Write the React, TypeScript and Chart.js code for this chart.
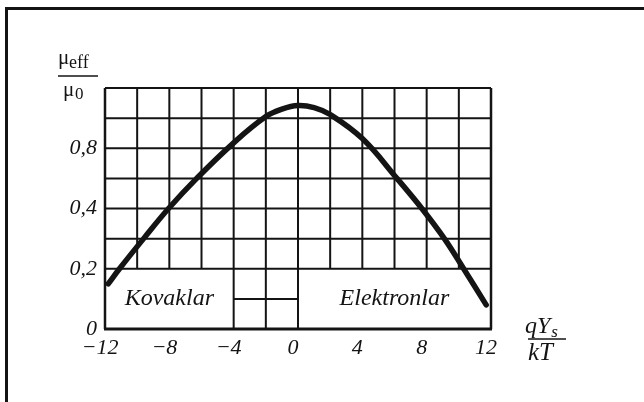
import { useEffect, useRef } from 'react';
import { Chart, registerables } from 'chart.js';

Chart.register(...registerables);

// Surface potential (qYs/kT) and effective mobility ratio along the curve
const surfacePotential = [-11.8, -11.1, -9.6, -8.05, -6.3, -4, -2, -1, 0, 1, 2, 4, 6.15, 7.7, 9.1, 10.3, 11.7];
const mobilityRatio = [0.15, 0.2, 0.3, 0.4, 0.5, 0.618, 0.705, 0.73, 0.742, 0.735, 0.712, 0.632, 0.5, 0.4, 0.3, 0.2, 0.08];

// Axis ticks and their printed labels
const xTickValues = [-12, -8, -4, 0, 4, 8, 12];
const xTickLabels = ['\u221212', '\u22128', '\u22124', '0', '4', '8', '12'];
const yTickValues = [0, 0.2, 0.4, 0.6];
const yTickLabels = ['0', '0,2', '0,4', '0,8'];

// Grid lines: full grid above 0.2, a small block of cells between -4 and 0 below it
const xGridValues = [-12, -10, -8, -6, -4, -2, 0, 2, 4, 6, 8, 10, 12];
const yGridValues = [0.2, 0.3, 0.4, 0.5, 0.6, 0.7, 0.8];
const lowerGridColumns = [-4, -2, 0];
const lowerGridRows = [0.1];

// Region names written inside the lower band
const regionNames = ['Kovaklar', 'Elektronlar'];
const regionCenters = [-8, 6];
const regionLevel = 0.1;

const SERIF = "'Liberation Serif', 'DejaVu Serif', 'Times New Roman', serif";
const INK = '#141414';

const gridPlugin = {
  id: 'mobilityGrid',
  beforeDatasetsDraw(chart: any) {
    const { ctx, scales } = chart;
    const xs = scales.x;
    const ys = scales.y;
    const xMin = xs.getPixelForValue(xGridValues[0]);
    const xMax = xs.getPixelForValue(xGridValues[xGridValues.length - 1]);
    const yTop = ys.getPixelForValue(yGridValues[yGridValues.length - 1]);
    const yBand = ys.getPixelForValue(yGridValues[0]);
    const yZero = ys.getPixelForValue(0);
    ctx.save();
    ctx.strokeStyle = INK;
    ctx.lineCap = 'butt';
    ctx.lineWidth = 2;
    ctx.beginPath();
    yGridValues.forEach((v) => {
      const y = ys.getPixelForValue(v);
      ctx.moveTo(xMin, y);
      ctx.lineTo(xMax, y);
    });
    xGridValues.forEach((v) => {
      const x = xs.getPixelForValue(v);
      ctx.moveTo(x, yTop);
      ctx.lineTo(x, yBand);
    });
    lowerGridColumns.forEach((v) => {
      const x = xs.getPixelForValue(v);
      ctx.moveTo(x, yBand);
      ctx.lineTo(x, yZero);
    });
    lowerGridRows.forEach((v) => {
      const y = ys.getPixelForValue(v);
      ctx.moveTo(xs.getPixelForValue(lowerGridColumns[0]), y);
      ctx.lineTo(xs.getPixelForValue(lowerGridColumns[lowerGridColumns.length - 1]), y);
    });
    ctx.stroke();
    // outer frame of the plot
    ctx.lineWidth = 2.5;
    ctx.beginPath();
    ctx.moveTo(xMin, yTop);
    ctx.lineTo(xMin, yZero);
    ctx.moveTo(xMax, yTop);
    ctx.lineTo(xMax, yZero);
    ctx.stroke();
    ctx.lineWidth = 3;
    ctx.beginPath();
    ctx.moveTo(xMin - 1, yZero);
    ctx.lineTo(xMax + 1, yZero);
    ctx.stroke();
    ctx.restore();
  },
  afterDraw(chart: any) {
    const { ctx, chartArea, scales } = chart;
    const xs = scales.x;
    const ys = scales.y;
    ctx.save();
    ctx.fillStyle = INK;
    ctx.strokeStyle = INK;

    // region names
    ctx.font = `italic 24px ${SERIF}`;
    ctx.textAlign = 'center';
    ctx.textBaseline = 'middle';
    regionNames.forEach((name, i) => {
      ctx.fillText(name, xs.getPixelForValue(regionCenters[i]), ys.getPixelForValue(regionLevel));
    });

    // y-axis title: mu_eff over mu_0
    const L = chartArea.left;
    const T = chartArea.top;
    ctx.textAlign = 'left';
    ctx.textBaseline = 'alphabetic';
    ctx.font = `21px ${SERIF}`;
    ctx.fillText('\u03bc', L - 47, T - 24);
    ctx.font = `18px ${SERIF}`;
    ctx.fillText('eff', L - 36, T - 20);
    ctx.lineWidth = 1.6;
    ctx.beginPath();
    ctx.moveTo(L - 47, T - 12);
    ctx.lineTo(L - 7, T - 12);
    ctx.stroke();
    ctx.font = `21px ${SERIF}`;
    ctx.fillText('\u03bc', L - 42, T + 8);
    ctx.font = `17px ${SERIF}`;
    ctx.fillText('0', L - 30, T + 11);

    // x-axis title: qYs over kT
    const R = chartArea.right;
    const B = chartArea.bottom;
    ctx.font = `italic 24px ${SERIF}`;
    ctx.fillText('qY', R + 34, B + 4);
    const qyWidth = ctx.measureText('qY').width;
    ctx.font = `italic 17px ${SERIF}`;
    ctx.fillText('s', R + 35 + qyWidth, B + 8);
    ctx.lineWidth = 1.6;
    ctx.beginPath();
    ctx.moveTo(R + 37, B + 10);
    ctx.lineTo(R + 75, B + 10);
    ctx.stroke();
    ctx.font = `italic 25px ${SERIF}`;
    ctx.fillText('kT', R + 37, B + 31);
    ctx.restore();
  },
};

export default function App() {
  const canvasRef = useRef<HTMLCanvasElement | null>(null);

  useEffect(() => {
    const canvas = canvasRef.current;
    if (!canvas) return;
    const points = surfacePotential.map((x, i) => ({ x, y: mobilityRatio[i] }));
    const tickFont = { family: SERIF, style: 'italic' as const, size: 22 };

    const chart = new Chart(canvas, {
      type: 'line',
      data: {
        datasets: [
          {
            data: points,
            borderColor: INK,
            borderWidth: 5.5,
            borderCapStyle: 'round',
            borderJoinStyle: 'round',
            pointRadius: 0,
            tension: 0.4,
            fill: false,
          },
        ],
      },
      options: {
        animation: false,
        responsive: false,
        devicePixelRatio: 1,
        layout: { padding: { top: 88, right: 153, bottom: 0, left: 0 } },
        plugins: { legend: { display: false }, tooltip: { enabled: false } },
        scales: {
          x: {
            type: 'linear',
            min: -12,
            max: 12,
            grid: { display: false, drawTicks: false },
            border: { display: false },
            afterBuildTicks: (scale: any) => {
              scale.ticks = xTickValues.map((value) => ({ value }));
            },
            afterFit: (scale: any) => {
              scale.height = 73;
            },
            ticks: {
              autoSkip: false,
              maxRotation: 0,
              padding: 6,
              labelOffset: -5,
              color: INK,
              font: tickFont,
              callback: (value: any) => {
                const i = xTickValues.indexOf(Number(value));
                return i >= 0 ? xTickLabels[i] : '';
              },
            },
          },
          y: {
            type: 'linear',
            min: 0,
            max: 0.8,
            grid: { display: false, drawTicks: false },
            border: { display: false },
            afterBuildTicks: (scale: any) => {
              scale.ticks = yTickValues.map((value) => ({ value }));
            },
            afterFit: (scale: any) => {
              scale.width = 105;
            },
            ticks: {
              autoSkip: false,
              padding: 8,
              color: INK,
              font: tickFont,
              callback: (value: any) => {
                const i = yTickValues.findIndex((v) => Math.abs(v - Number(value)) < 1e-6);
                return i >= 0 ? yTickLabels[i] : '';
              },
            },
          },
        },
      },
      plugins: [gridPlugin],
    });

    return () => chart.destroy();
  }, []);

  return (
    <div
      style={{
        position: 'absolute',
        left: 0,
        top: 0,
        width: 644,
        height: 402,
        overflow: 'hidden',
        background: '#fff',
      }}
    >
      <div
        style={{
          position: 'absolute',
          left: 5,
          top: 7,
          width: 700,
          height: 420,
          borderTop: '3px solid #141414',
          borderLeft: '3px solid #141414',
        }}
      />
      <canvas
        ref={canvasRef}
        width={644}
        height={402}
        style={{ position: 'absolute', left: 0, top: 0, width: 644, height: 402 }}
      />
    </div>
  );
}
